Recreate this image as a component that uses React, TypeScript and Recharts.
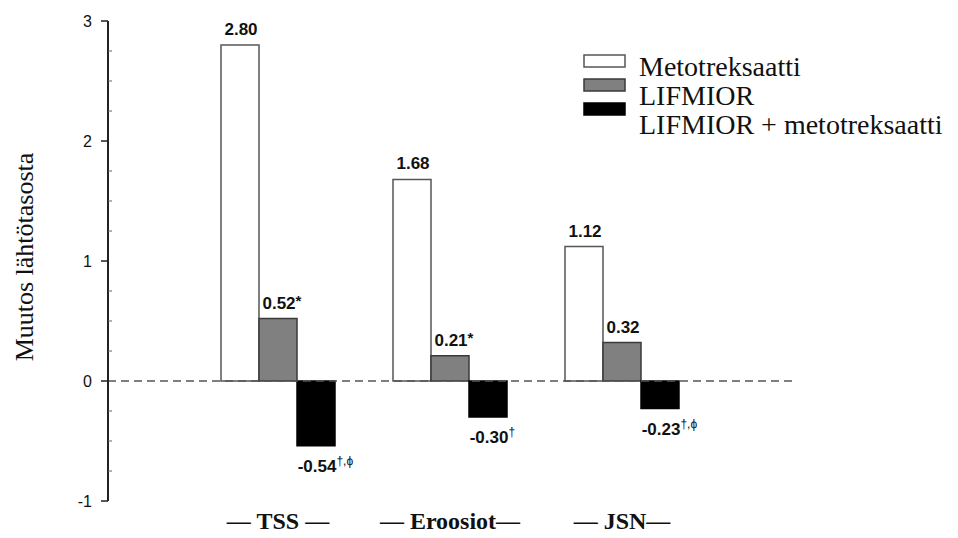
import React from 'react';
import { BarChart, Bar, XAxis, YAxis, ReferenceLine, Legend, LabelList, Label } from 'recharts';

const categories = ['— TSS —', '— Eroosiot—', '— JSN—'];
const seriesNames = ['Metotreksaatti', 'LIFMIOR', 'LIFMIOR + metotreksaatti'];
const metotreksaatti = [2.8, 1.68, 1.12];
const lifmior = [0.52, 0.21, 0.32];
const yhdistelma = [-0.54, -0.3, -0.23];
const metotreksaattiMarks = ['', '', ''];
const lifmiorMarks = ['*', '*', ''];
const yhdistelmaMarks = ['†,ϕ', '†', '†,ϕ'];
const yTicks = [-1, -0.75, -0.5, -0.25, 0, 0.25, 0.5, 0.75, 1, 1.25, 1.5, 1.75, 2, 2.25, 2.5, 2.75, 3];
const yLabel = 'Muutos lähtötasosta';

const fills = ['#ffffff', '#808080', '#000000'];
const strokes = ['#555555', '#3a3a3a', '#000000'];
const keys = ['m', 'l', 'c'];

const data = categories.map((cat, i) => ({
  cat,
  m: metotreksaatti[i],
  l: lifmior[i],
  c: yhdistelma[i],
}));

const SERIF = "'Liberation Serif', 'Times New Roman', serif";
const SANS = "'Liberation Sans', Arial, Helvetica, sans-serif";

const charW: Record<string, number> = { '-': 0.333, '.': 0.278 };
const textWidth = (s: string, fs: number) =>
  s.split('').reduce((a, ch) => a + (charW[ch] ?? 0.556), 0) * fs;

const makeLabel = (marks: string[]) => (props: any) => {
  const { x, y, width, height, value, index } = props;
  const fs = 17;
  const top = Math.min(y, y + height);
  const bottom = Math.max(y, y + height);
  const num = Number(value).toFixed(2);
  const cx = x + width / 2;
  const ty = value >= 0 ? top - 10 : bottom + 26;
  const w = textWidth(num, fs);
  const mark = marks[index] || '';
  const isStar = mark === '*';
  return (
    <text x={cx - w / 2 + 1} y={ty} textAnchor="start" fontFamily={SANS} fontWeight="bold" fontSize={fs} fill="#111">
      {num}
      {mark ? (
        <tspan fontSize={isStar ? 15 : 12} fontWeight={isStar ? 'bold' : 'normal'} dy={isStar ? -3 : -7} fill="#111">
          {mark}
        </tspan>
      ) : null}
    </text>
  );
};

const YTick = (props: any) => {
  const { x, y, payload } = props;
  const v = payload.value;
  const major = Number.isInteger(v);
  return (
    <g>
      {major ? (
        <line x1={x - 7} x2={x} y1={y} y2={y} stroke="#222" strokeWidth={1.5} />
      ) : (
        <line x1={x} x2={x + 4} y1={y} y2={y} stroke="#666" strokeWidth={1} />
      )}
      {major ? (
        <text x={x - 16} y={y} textAnchor="end" dominantBaseline="central" fontFamily={SANS} fontSize={16} fill="#111">
          {v}
        </text>
      ) : null}
    </g>
  );
};

const XTick = (props: any) => {
  const { x, y, payload } = props;
  return (
    <text x={x} y={y + 28} textAnchor="middle" fontFamily={SERIF} fontWeight="bold" fontSize={24} fill="#111">
      {payload.value}
    </text>
  );
};

const LegendContent = (props: any) => {
  const payload = [...(props.payload || [])].sort(
    (a: any, b: any) => seriesNames.indexOf(a.value) - seriesNames.indexOf(b.value)
  );
  return (
    <svg width={375} height={110} style={{ display: 'block' }}>
      {payload.map((entry: any, i: number) => {
        const idx = seriesNames.indexOf(entry.value);
        return (
          <g key={i}>
            <rect x={1} y={11 + i * 24} width={41} height={12} fill={fills[idx]} stroke={strokes[idx]} strokeWidth={1.5} />
            <text x={56} y={32 + i * 29} fontFamily={SERIF} fontSize={28} fill="#111">
              {entry.value}
            </text>
          </g>
        );
      })}
    </svg>
  );
};

const YLabelContent = (props: any) => {
  const vb = props.viewBox || {};
  const cx = 24;
  const cy = vb.y + vb.height / 2 - 4;
  return (
    <text x={cx} y={cy} transform={`rotate(-90, ${cx}, ${cy})`} textAnchor="middle" dominantBaseline="central" fontFamily={SERIF} fontSize={26} fill="#111">
      {yLabel}
    </text>
  );
};

const markLists = [metotreksaattiMarks, lifmiorMarks, yhdistelmaMarks];

export default function App() {
  return (
    <div style={{ position: 'absolute', left: 0, top: 0, width: 958, height: 538, background: '#fff' }}>
      <BarChart
        width={958}
        height={538}
        data={data}
        margin={{ top: 21, right: 165, bottom: 0, left: 0 }}
        barGap={0}
        barSize={38}
      >
        <XAxis
          dataKey="cat"
          axisLine={false}
          tickLine={false}
          tickSize={0}
          tickMargin={0}
          height={37}
          padding={{ left: 84, right: 85 }}
          tick={<XTick />}
          interval={0}
        />
        <YAxis
          type="number"
          domain={[-1, 3]}
          ticks={yTicks}
          interval={0}
          width={108}
          tickSize={0}
          tickMargin={0}
          tickLine={false}
          axisLine={{ stroke: '#222', strokeWidth: 2 }}
          tick={<YTick />}
          allowDataOverflow
        >
          <Label content={<YLabelContent />} />
        </YAxis>
        <ReferenceLine y={0} stroke="#555" strokeWidth={1.5} strokeDasharray="8 5" />
        <Legend
          layout="horizontal"
          verticalAlign="middle"
          align="center"
          content={<LegendContent />}
          wrapperStyle={{ position: 'absolute', left: 583, top: 44, width: 375, height: 110 }}
        />
        {keys.map((k, i) => (
          <Bar
            key={k}
            dataKey={k}
            name={seriesNames[i]}
            fill={fills[i]}
            stroke={strokes[i]}
            strokeWidth={1.5}
            isAnimationActive={false}
          >
            <LabelList dataKey={k} content={makeLabel(markLists[i])} />
          </Bar>
        ))}
      </BarChart>
    </div>
  );
}
